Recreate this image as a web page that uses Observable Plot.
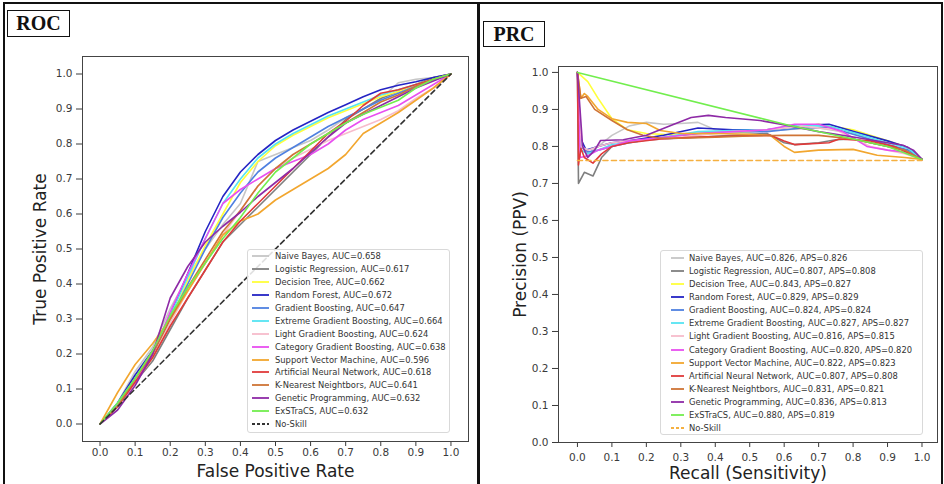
<!DOCTYPE html>
<html>
<head>
<meta charset="utf-8">
<script src="https://cdn.jsdelivr.net/npm/d3@7"></script>
<script src="https://cdn.jsdelivr.net/npm/@observablehq/plot@0.6"></script>
<style>
  html, body { margin: 0; padding: 0; background: #fff; }
  #wrap { position: relative; width: 944px; height: 484px; overflow: hidden; font-family: "DejaVu Sans", sans-serif; }
  .panel { position: absolute; border: 2px solid #111; box-sizing: border-box; }
  .tag { position: absolute; box-sizing: border-box; border: 1.5px solid #111; font: bold 20px "Liberation Serif", serif; color: #111; display: flex; align-items: center; justify-content: center; background: #fff; }
  .plot { position: absolute; top: 0; }
  .legend { position: absolute; box-sizing: border-box; background: rgba(255,255,255,0.85); border: 1px solid #d9d9d9; border-radius: 3px; font: 8.4px "DejaVu Sans", sans-serif; color: #333; }
  .row { display: flex; align-items: center; white-space: nowrap; }
  .row svg { flex: none; }
</style>
</head>
<body>
<div id="wrap">
  <div class="panel" style="left:3px; top:2px; width:476px; height:484px;"></div>
  <div class="panel" style="left:478px; top:2px; width:465px; height:484px;"></div>
  <div class="tag" style="left:7px; top:10px; width:63px; height:27px;">ROC</div>
  <div class="tag" style="left:483px; top:21px; width:62px; height:26px;">PRC</div>
</div>
<script>
// ---------- categories & colours ----------
const models = [
  "Naive Bayes", "Logistic Regression", "Decision Tree", "Random Forest",
  "Gradient Boosting", "Extreme Gradient Boosting", "Light Gradient Boosting",
  "Category Gradient Boosting", "Support Vector Machine", "Artificial Neural Network",
  "K-Nearest Neightbors", "Genetic Programming", "ExSTraCS"
];
const modelColors = [
  "#c6c6c6", "#7f7f7f", "#ffff3a", "#2424c4",
  "#4f80e0", "#55e4f2", "#f7bccb",
  "#e84ff0", "#f2a62e", "#e03a3a",
  "#cf7436", "#8e2aa6", "#72ee4e"
];
const rocAUC = [0.658, 0.617, 0.662, 0.672, 0.647, 0.664, 0.624, 0.638, 0.596, 0.618, 0.641, 0.632, 0.632];
const prcAUC = [0.826, 0.807, 0.843, 0.829, 0.824, 0.827, 0.816, 0.820, 0.822, 0.807, 0.831, 0.836, 0.880];
const prcAPS = [0.826, 0.808, 0.827, 0.829, 0.824, 0.827, 0.815, 0.820, 0.823, 0.808, 0.821, 0.813, 0.819];
const tickValues = [0, 0.1, 0.2, 0.3, 0.4, 0.5, 0.6, 0.7, 0.8, 0.9, 1.0];

// ---------- ROC data (true positive rate on a common false-positive-rate grid) ----------
const rocFpr = [0, 0.05, 0.1, 0.15, 0.2, 0.25, 0.3, 0.35, 0.4, 0.45, 0.5, 0.55, 0.6, 0.65, 0.7, 0.75, 0.8, 0.85, 0.9, 0.95, 1.0];
const rocNaiveBayes   = [0, 0.06, 0.15, 0.22, 0.33, 0.42, 0.50, 0.57, 0.63, 0.75, 0.77, 0.79, 0.81, 0.84, 0.875, 0.90, 0.93, 0.975, 0.985, 0.99, 1];
const rocLogistic     = [0, 0.05, 0.12, 0.18, 0.27, 0.36, 0.44, 0.52, 0.57, 0.62, 0.67, 0.72, 0.77, 0.82, 0.87, 0.90, 0.93, 0.95, 0.97, 0.99, 1];
const rocDecisionTree = [0, 0.05, 0.12, 0.19, 0.30, 0.41, 0.51, 0.60, 0.69, 0.75, 0.795, 0.825, 0.85, 0.875, 0.895, 0.915, 0.935, 0.95, 0.97, 0.985, 1];
const rocRandomForest = [0, 0.06, 0.14, 0.21, 0.31, 0.43, 0.55, 0.65, 0.72, 0.77, 0.81, 0.84, 0.865, 0.89, 0.912, 0.935, 0.955, 0.968, 0.978, 0.99, 1];
const rocGradBoost    = [0, 0.05, 0.13, 0.20, 0.30, 0.40, 0.50, 0.59, 0.66, 0.72, 0.76, 0.79, 0.82, 0.85, 0.875, 0.90, 0.925, 0.945, 0.965, 0.985, 1];
const rocXGBoost      = [0, 0.06, 0.13, 0.20, 0.31, 0.42, 0.53, 0.63, 0.70, 0.76, 0.80, 0.83, 0.855, 0.88, 0.90, 0.92, 0.94, 0.955, 0.97, 0.985, 1];
const rocLightGB      = [0, 0.05, 0.12, 0.19, 0.29, 0.38, 0.46, 0.54, 0.61, 0.68, 0.73, 0.76, 0.785, 0.81, 0.83, 0.85, 0.87, 0.895, 0.93, 0.96, 1];
const rocCatGB        = [0, 0.05, 0.12, 0.20, 0.32, 0.43, 0.53, 0.63, 0.67, 0.70, 0.73, 0.75, 0.77, 0.80, 0.84, 0.87, 0.89, 0.91, 0.94, 0.97, 1];
const rocSVM          = [0, 0.09, 0.17, 0.23, 0.30, 0.38, 0.46, 0.54, 0.58, 0.60, 0.64, 0.67, 0.70, 0.73, 0.77, 0.83, 0.86, 0.89, 0.925, 0.96, 1];
const rocANN          = [0, 0.05, 0.12, 0.19, 0.28, 0.36, 0.44, 0.52, 0.58, 0.63, 0.68, 0.73, 0.78, 0.83, 0.865, 0.91, 0.945, 0.955, 0.97, 0.985, 1];
const rocKNN          = [0, 0.05, 0.13, 0.20, 0.30, 0.39, 0.47, 0.55, 0.61, 0.68, 0.73, 0.77, 0.80, 0.83, 0.86, 0.89, 0.92, 0.94, 0.965, 0.985, 1];
const rocGP           = [0, 0.04, 0.11, 0.20, 0.36, 0.45, 0.52, 0.565, 0.605, 0.65, 0.69, 0.73, 0.775, 0.82, 0.86, 0.885, 0.91, 0.935, 0.96, 0.98, 1];
const rocExSTraCS     = [0, 0.06, 0.13, 0.21, 0.31, 0.39, 0.46, 0.53, 0.59, 0.66, 0.72, 0.76, 0.80, 0.83, 0.86, 0.885, 0.905, 0.925, 0.96, 0.985, 1];
const rocNoSkill = [[0, 0], [1, 1]];

// ---------- PRC data ([recall, precision] points) ----------
const prcNaiveBayes   = [[0,1],[0.01,0.80],[0.03,0.78],[0.06,0.80],[0.1,0.83],[0.15,0.855],[0.2,0.865],[0.25,0.86],[0.3,0.862],[0.35,0.865],[0.4,0.845],[0.5,0.84],[0.6,0.845],[0.7,0.85],[0.8,0.835],[0.9,0.805],[0.95,0.79],[1,0.765]];
const prcLogistic     = [[0,1],[0.003,0.70],[0.02,0.73],[0.045,0.72],[0.07,0.77],[0.1,0.80],[0.15,0.815],[0.25,0.82],[0.35,0.825],[0.45,0.83],[0.55,0.835],[0.6,0.81],[0.63,0.805],[0.7,0.81],[0.75,0.818],[0.8,0.82],[0.9,0.80],[0.95,0.79],[1,0.765]];
const prcDecisionTree = [[0,1],[0.03,0.975],[0.06,0.93],[0.1,0.875],[0.145,0.845],[0.2,0.835],[0.3,0.83],[0.4,0.835],[0.5,0.84],[0.6,0.85],[0.7,0.86],[0.8,0.845],[0.9,0.815],[0.95,0.80],[1,0.765]];
const prcRandomForest = [[0,1],[0.01,0.82],[0.025,0.79],[0.06,0.80],[0.1,0.81],[0.15,0.815],[0.25,0.83],[0.35,0.85],[0.45,0.845],[0.55,0.845],[0.65,0.857],[0.73,0.86],[0.81,0.838],[0.9,0.815],[0.96,0.797],[1,0.765]];
const prcGradBoost    = [[0,1],[0.01,0.80],[0.03,0.785],[0.06,0.79],[0.1,0.80],[0.15,0.81],[0.25,0.825],[0.35,0.835],[0.45,0.84],[0.55,0.84],[0.65,0.85],[0.73,0.852],[0.81,0.83],[0.9,0.805],[0.96,0.79],[1,0.765]];
const prcXGBoost      = [[0,1],[0.01,0.79],[0.03,0.78],[0.06,0.79],[0.1,0.805],[0.15,0.81],[0.25,0.825],[0.35,0.84],[0.45,0.843],[0.55,0.845],[0.65,0.857],[0.73,0.855],[0.81,0.835],[0.9,0.81],[0.96,0.795],[1,0.765]];
const prcLightGB      = [[0,1],[0.01,0.80],[0.03,0.79],[0.06,0.80],[0.1,0.81],[0.15,0.815],[0.25,0.82],[0.35,0.83],[0.45,0.84],[0.55,0.845],[0.65,0.855],[0.75,0.845],[0.85,0.80],[0.9,0.79],[0.95,0.78],[1,0.765]];
const prcCatGB        = [[0,1],[0.008,0.77],[0.03,0.775],[0.06,0.79],[0.1,0.80],[0.15,0.815],[0.25,0.825],[0.35,0.835],[0.45,0.84],[0.55,0.845],[0.63,0.86],[0.7,0.86],[0.77,0.84],[0.84,0.80],[0.9,0.79],[0.95,0.785],[1,0.765]];
const prcSVM          = [[0,1],[0.01,0.93],[0.02,0.943],[0.03,0.935],[0.06,0.90],[0.1,0.875],[0.145,0.865],[0.2,0.862],[0.24,0.843],[0.3,0.835],[0.4,0.835],[0.5,0.833],[0.56,0.83],[0.6,0.80],[0.63,0.784],[0.7,0.79],[0.8,0.792],[0.87,0.776],[0.95,0.77],[1,0.765]];
const prcANN          = [[0,1],[0.003,0.75],[0.01,0.795],[0.02,0.77],[0.045,0.755],[0.07,0.78],[0.1,0.80],[0.15,0.81],[0.24,0.82],[0.33,0.825],[0.45,0.828],[0.56,0.83],[0.6,0.815],[0.63,0.805],[0.73,0.81],[0.76,0.82],[0.85,0.815],[0.92,0.80],[1,0.765]];
const prcKNN          = [[0,1],[0.01,0.93],[0.025,0.935],[0.05,0.90],[0.1,0.87],[0.145,0.845],[0.19,0.83],[0.24,0.822],[0.3,0.822],[0.4,0.825],[0.5,0.828],[0.6,0.83],[0.7,0.83],[0.8,0.82],[0.9,0.80],[0.95,0.79],[1,0.765]];
const prcGP           = [[0,1],[0.015,0.80],[0.03,0.77],[0.05,0.79],[0.067,0.816],[0.133,0.818],[0.2,0.83],[0.28,0.86],[0.33,0.878],[0.38,0.884],[0.43,0.878],[0.53,0.87],[0.61,0.857],[0.7,0.84],[0.81,0.824],[0.9,0.81],[0.945,0.803],[0.975,0.79],[1,0.765]];
const prcExSTraCS     = [[0,1],[0.61,0.858],[0.8,0.82],[0.9,0.80],[1,0.765]];
const prcNoSkill = [[0, 0.762], [1, 0.762]];

// ---------- tables built from the arrays ----------
const rocSeries = [rocNaiveBayes, rocLogistic, rocDecisionTree, rocRandomForest, rocGradBoost, rocXGBoost, rocLightGB, rocCatGB, rocSVM, rocANN, rocKNN, rocGP, rocExSTraCS];
const prcSeries = [prcNaiveBayes, prcLogistic, prcDecisionTree, prcRandomForest, prcGradBoost, prcXGBoost, prcLightGB, prcCatGB, prcSVM, prcANN, prcKNN, prcGP, prcExSTraCS];
const rocRows = models.flatMap((m, i) => rocSeries[i].map((t, j) => ({model: m, fpr: rocFpr[j], tpr: t})));
const prcRows = models.flatMap((m, i) => prcSeries[i].map(([r, p]) => ({model: m, recall: r, precision: p})));

const fmt = d3.format(".1f");
const wrap = document.getElementById("wrap");
const baseStyle = {background: "transparent", fontFamily: "DejaVu Sans", fontSize: "10.5px", color: "#3a3a3a", overflow: "visible"};

// ---------- ROC ----------
const roc = Plot.plot({
  width: 476, height: 484,
  marginLeft: 82, marginRight: 8, marginTop: 56, marginBottom: 43,
  x: {domain: [-0.05, 1.05]},
  y: {domain: [-0.05, 1.05]},
  color: {domain: models, range: modelColors},
  style: baseStyle,
  marks: [
    Plot.axisX({ticks: tickValues, tickFormat: fmt, tickSize: 5, tickPadding: 2, label: null}),
    Plot.axisY({ticks: tickValues, tickFormat: fmt, tickSize: 6, tickPadding: 4, label: null}),
    Plot.line(rocRows, {x: "fpr", y: "tpr", z: "model", stroke: "model", strokeWidth: 1.6, strokeLinejoin: "round"}),
    Plot.line(rocNoSkill, {x: d => d[0], y: d => d[1], stroke: "#333", strokeWidth: 1.6, strokeDasharray: "5,3.5"}),
    Plot.frame({stroke: "#444"}),
    Plot.text(["False Positive Rate"], {frameAnchor: "bottom", dy: 30, lineAnchor: "middle", textAnchor: "middle", fontSize: 17, fill: "#222"}),
    Plot.text(["True Positive Rate"], {frameAnchor: "left", dx: -42, rotate: -90, lineAnchor: "middle", textAnchor: "middle", fontSize: 17, fill: "#222"})
  ]
});
roc.classList.add("plot");
roc.style.left = "0px";
wrap.appendChild(roc);

// ---------- PRC ----------
const prc = Plot.plot({
  width: 464, height: 484,
  marginLeft: 78, marginRight: 7, marginTop: 66, marginBottom: 42,
  x: {domain: [-0.055, 1.045]},
  y: {domain: [0, 1.016]},
  color: {domain: models, range: modelColors},
  style: baseStyle,
  marks: [
    Plot.axisX({ticks: tickValues, tickFormat: fmt, tickSize: 5, tickPadding: 6, label: null}),
    Plot.axisY({ticks: tickValues, tickFormat: fmt, tickSize: 6, tickPadding: 4, label: null}),
    Plot.line(prcRows, {x: "recall", y: "precision", z: "model", stroke: "model", strokeWidth: 1.6, strokeLinejoin: "round"}),
    Plot.line(prcNoSkill, {x: d => d[0], y: d => d[1], stroke: "#f5b040", strokeWidth: 1.6, strokeDasharray: "5,3.5"}),
    Plot.frame({stroke: "#444"}),
    Plot.text(["Recall (Sensitivity)"], {frameAnchor: "bottom", dy: 31, lineAnchor: "middle", textAnchor: "middle", fontSize: 17, fill: "#222"}),
    Plot.text(["Precision (PPV)"], {frameAnchor: "left", dx: -38, rotate: -90, lineAnchor: "middle", textAnchor: "middle", fontSize: 17, fill: "#222"})
  ]
});
prc.classList.add("plot");
prc.style.left = "480px";
wrap.appendChild(prc);

// ---------- legends ----------
function legend(box, labels, colors, extra) {
  const div = document.createElement("div");
  div.className = "legend";
  Object.assign(div.style, {left: box.left + "px", top: box.top + "px", width: box.width + "px", height: box.height + "px"});
  const entries = labels.map((l, i) => ({label: l, color: colors[i], dash: null})).concat([extra]);
  for (const e of entries) {
    const row = document.createElement("div");
    row.className = "row";
    row.style.height = box.row + "px";
    const ns = "http://www.w3.org/2000/svg";
    const s = document.createElementNS(ns, "svg");
    s.setAttribute("width", box.sample);
    s.setAttribute("height", 6);
    s.style.marginLeft = box.pad + "px";
    s.style.marginRight = box.gap + "px";
    const ln = document.createElementNS(ns, "line");
    ln.setAttribute("x1", 0); ln.setAttribute("x2", box.sample);
    ln.setAttribute("y1", 3); ln.setAttribute("y2", 3);
    ln.setAttribute("stroke", e.color);
    ln.setAttribute("stroke-width", 1.8);
    if (e.dash) ln.setAttribute("stroke-dasharray", e.dash);
    s.appendChild(ln);
    row.appendChild(s);
    const t = document.createElement("span");
    t.textContent = e.label;
    row.appendChild(t);
    div.appendChild(row);
  }
  wrap.appendChild(div);
}
legend({left: 247, top: 249, width: 203, height: 184, row: 12.9, pad: 4, sample: 17, gap: 6},
  models.map((m, i) => `${m}, AUC=${rocAUC[i].toFixed(3)}`), modelColors,
  {label: "No-Skill", color: "#333", dash: "3,2"});
legend({left: 660, top: 250, width: 263, height: 185, row: 13.15, pad: 10, sample: 13, gap: 5},
  models.map((m, i) => `${m}, AUC=${prcAUC[i].toFixed(3)}, APS=${prcAPS[i].toFixed(3)}`), modelColors,
  {label: "No-Skill", color: "#f5b040", dash: "3,2"});
</script>
</body>
</html>
